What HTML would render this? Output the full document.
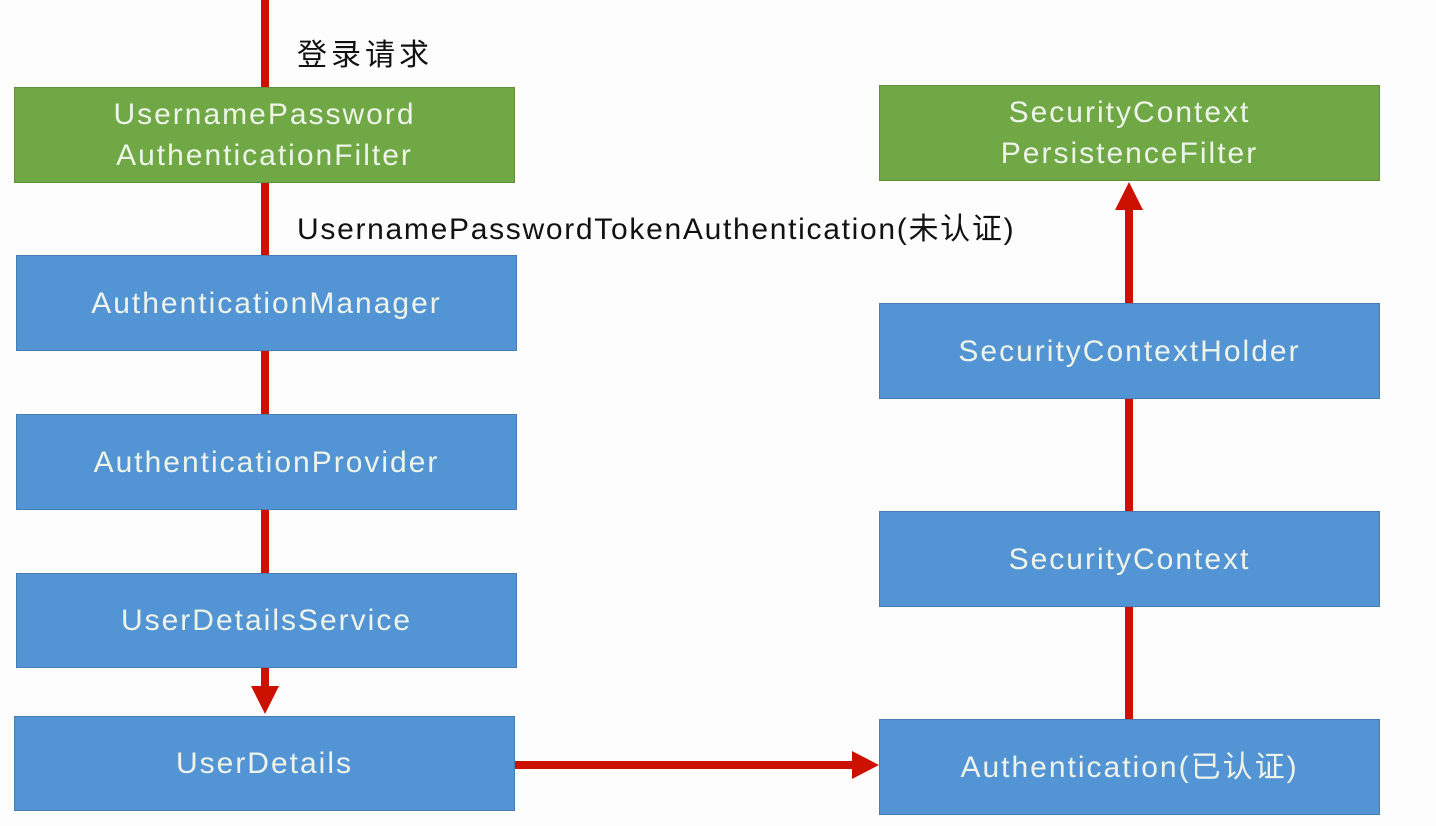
<!DOCTYPE html>
<html><head><meta charset="utf-8"><style>
body{margin:0;width:1436px;height:826px;background:#fdfdfd;position:relative;overflow:hidden;font-family:"Liberation Sans","Noto Sans CJK SC",sans-serif}
.b{position:absolute;display:flex;align-items:center;justify-content:center;text-align:center;color:#eef4ea;font-size:30px;letter-spacing:2px;line-height:41px;box-sizing:border-box;border:1px solid rgba(0,0,0,0.15)}
.g{background:#6fa845}
.u{background:#5394d4}
.t{position:absolute;color:#111;font-size:30px;white-space:nowrap}
svg{position:absolute;left:0;top:0}
</style></head><body>
<svg width="1436" height="826">
<g fill="#cc1100">
<rect x="261" y="0" width="8" height="690"/>
<polygon points="251,686 279,686 265,714"/>
<rect x="515" y="761" width="340" height="8"/>
<polygon points="852,751 852,779 879,765"/>
<rect x="1125" y="208" width="8" height="512"/>
<polygon points="1115,210 1143,210 1129,182"/>
</g>
</svg>
<div class="b g" style="left:14px;top:87px;width:501px;height:96px">UsernamePassword<br>AuthenticationFilter</div>
<div class="b u" style="left:16px;top:255px;width:501px;height:96px">AuthenticationManager</div>
<div class="b u" style="left:16px;top:414px;width:501px;height:96px">AuthenticationProvider</div>
<div class="b u" style="left:16px;top:573px;width:501px;height:95px">UserDetailsService</div>
<div class="b u" style="left:14px;top:716px;width:501px;height:95px">UserDetails</div>
<div class="b g" style="left:879px;top:85px;width:501px;height:96px">SecurityContext<br>PersistenceFilter</div>
<div class="b u" style="left:879px;top:303px;width:501px;height:96px">SecurityContextHolder</div>
<div class="b u" style="left:879px;top:511px;width:501px;height:96px">SecurityContext</div>
<div class="b u" style="left:879px;top:719px;width:501px;height:96px">Authentication(已认证)</div>
<div class="t" style="left:297px;top:30px;letter-spacing:4px">登录请求</div>
<div class="t" style="left:297px;top:204px;letter-spacing:1.7px">UsernamePasswordTokenAuthentication(未认证)</div>
</body></html>
